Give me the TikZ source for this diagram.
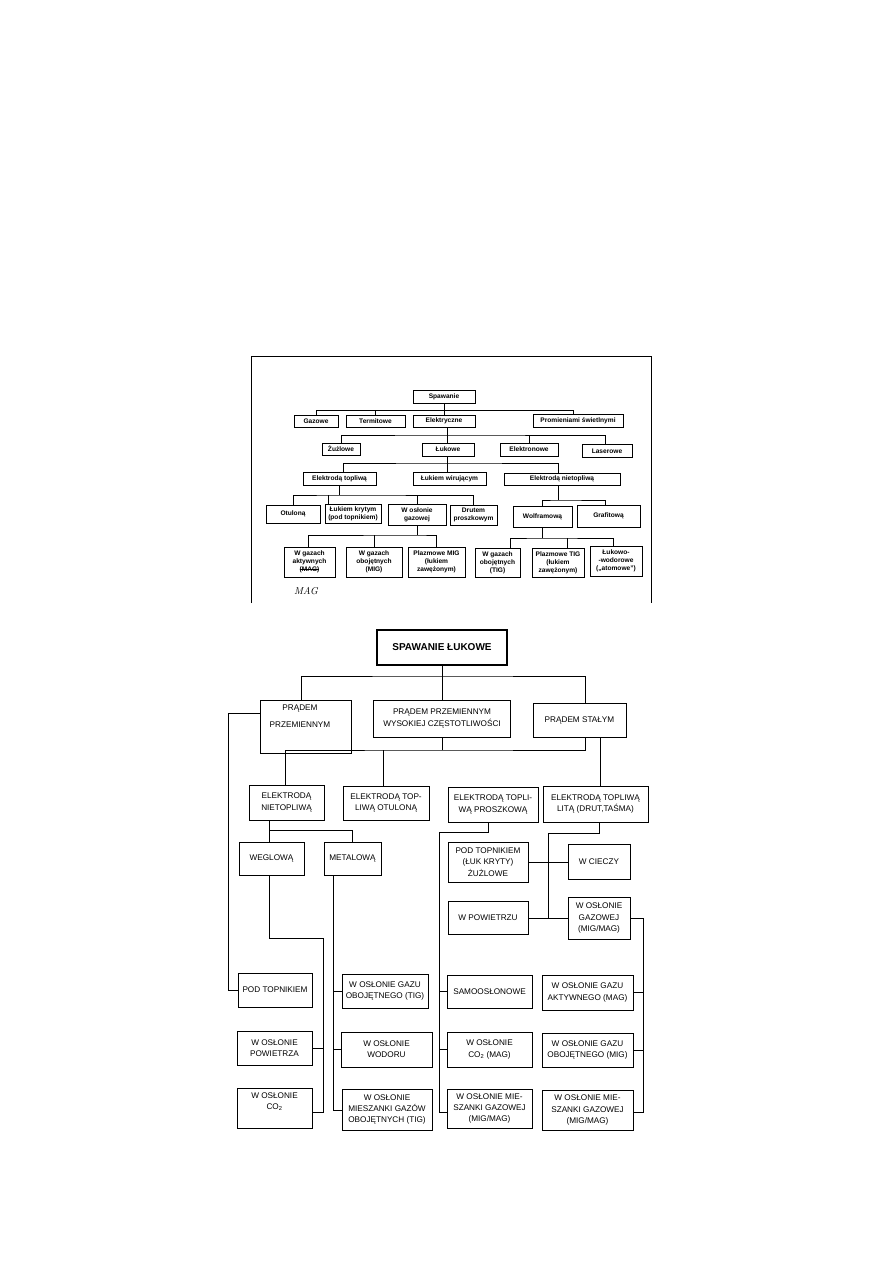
\documentclass[tikz,border=0pt]{standalone}
\usepackage{fontspec}
\usetikzlibrary{calc}
\newfontfamily\arialf{Liberation Sans}
\newcommand\topf{\arialf\bfseries\fontsize{6.6}{7.9}\selectfont}
\newcommand\botf{\arialf\fontsize{8.2}{11.2}\selectfont}
\newcommand\strk[1]{\setbox0\hbox{#1}\rlap{\raisebox{0.45ex}{\rule{\wd0}{0.6pt}}}\box0}
\begin{document}
\begin{tikzpicture}[x=1pt,y=-1pt,
  sz/.style 2 args={minimum width=#1pt,minimum height=#2pt},
  tb/.style={draw,line width=0.8pt,inner sep=0pt,align=center,font=\topf},
  bb/.style={draw,line width=0.9pt,inner sep=0pt,align=center,font=\botf},
  ln/.style={line width=0.8pt},
  bl/.style={line width=0.9pt}]
\fill[white] (0,0) rectangle (893,1263);
\useasboundingbox (0,0) rectangle (893,1263);
% ---------- top scanned diagram ----------
\draw[ln] (251,603) -- (251,356) -- (651,356) -- (651,603);
\node[tb,sz={62}{13}] (t0) at (444,396.5) {Spawanie};
\node[tb,sz={44}{12}] (t1) at (316,421) {Gazowe};
\node[tb,sz={59}{12}] (t2) at (375.5,421) {Termitowe};
\node[tb,sz={62}{12}] (t3) at (444,421) {Elektryczne};
\node[tb,sz={90}{13}] (t4) at (578,421) {Promieniami świetlnymi};
\node[tb,sz={38}{12}] (t5) at (341,449) {Żużlowe};
\node[tb,sz={52}{13}] (t6) at (448,449.5) {Łukowe};
\node[tb,sz={58}{13}] (t7) at (529,449.5) {Elektronowe};
\node[tb,sz={50}{13}] (t8) at (607,451) {Laserowe};
\node[tb,sz={73}{13}] (t9) at (339.5,478.5) {Elektrodą topliwą};
\node[tb,sz={73}{13}] (t10) at (449.5,478.5) {Łukiem wirującym};
\node[tb,sz={116}{12}] (t11) at (562,479) {Elektrodą nietopliwą};
\node[tb,sz={54}{18}] (t12) at (293,514) {Otuloną};
\node[tb,sz={56}{19}] (t13) at (353,513.5) {Łukiem krytym\\(pod topnikiem)};
\node[tb,sz={58}{21}] (t14) at (417,514.5) {W osłonie\\gazowej};
\node[tb,sz={47}{20}] (t15) at (473.5,515) {Drutem\\proszkowym};
\node[tb,sz={59}{21}] (t16) at (542.5,516.5) {Wolframową};
\node[tb,sz={63}{22}] (t17) at (608.5,516) {Grafitową};
\node[tb,sz={51}{30}] (t18) at (309.5,562) {W gazach\\aktywnych\\\strk{(MAG)}};
\node[tb,sz={56}{30}] (t19) at (374,562) {W gazach\\obojętnych\\(MIG)};
\node[tb,sz={57}{30}] (t20) at (436.5,562) {Plazmowe MIG\\(łukiem\\zawężonym)};
\node[tb,sz={45}{29}] (t21) at (497.5,562.5) {W gazach\\obojętnych\\(TIG)};
\node[tb,sz={52}{29}] (t22) at (558,562.5) {Plazmowe TIG\\(łukiem\\zawężonym)};
\node[tb,sz={52}{30}] (t23) at (616,561) {Łukowo-\\-wodorowe\\(„atomowe”)};
\node[font=\itshape\fontsize{10}{12}\selectfont] (hw) at (306,591) {MAG};
% top connectors
\coordinate (j1) at (444,411);
\draw[ln] (t0.south) -- (t3.north);
\draw[ln] (t1.north) |- ($(t4.north)+(-5,-3.5)$) -- ($(t4.north)+(-5,0)$);
\draw[ln] (t2.north) -- (t2.north |- j1);
\coordinate (j2) at (447,435);
\draw[ln] (t3.south -| j2) -- (t6.north -| j2);
\draw[ln] (t5.north) |- (j2) -| ($(t8.north)+(-2,0)$);
\draw[ln] (t7.north) -- (t7.north |- j2);
\coordinate (j3) at (447,463);
\draw[ln] (t6.south -| j3) -- (t10.north -| j3);
\draw[ln] ($(t9.north)+(3.5,0)$) |- (j3) -| ($(t11.north)+(-4,0)$);
\coordinate (j4) at (339.5,495);
\draw[ln] (t9.south) -- (j4);
\draw[ln] (t12.north) |- (j4) -| (t15.north);
\draw[ln] ($(t13.north)+(-25,0)$) -- ++(0,-9);
\draw[ln] (t14.north) -- ++(0,-9);
\coordinate (j5) at (558,500);
\draw[ln] ($(t11.south)+(-4,0)$) -- (j5);
\draw[ln] (t16.north) |- (j5) -| ($(t17.north)+(-3.5,0)$);
\coordinate (j6) at (417,535);
\draw[ln] (t14.south) -- (j6);
\draw[ln] ($(t18.north)+(-1.5,0)$) |- (j6) -| (t20.north);
\draw[ln] (t19.north) -- (t19.north |- j6);
\coordinate (j7) at (542.5,538);
\draw[ln] (t16.south) -- (j7);
\draw[ln] ($(t21.north)+(12.5,0)$) |- (j7) -| ($(t23.north)+(-3,0)$);
\draw[ln] ($(t22.north)+(9,0)$) -- ++(0,-10);
% ---------- bottom diagram ----------
\node[draw,line width=2.2pt,inner sep=0pt,sz={130}{35},font=\arialf\bfseries\fontsize{10}{12}\selectfont] (b0) at (442,647.5) {SPAWANIE ŁUKOWE};
\node[bb,sz={91}{53}] (b1) at (305.5,726.5) {};
\node[font=\botf,align=center] (b1t) at (300,716) {PRĄDEM\\[6pt]PRZEMIENNYM};
\node[bb,sz={137}{37}] (b2) at (442,718.5) {PRĄDEM PRZEMIENNYM\\WYSOKIEJ CZĘSTOTLIWOŚCI};
\node[bb,sz={93}{34}] (b3) at (579.5,720) {PRĄDEM STAŁYM};
\node[bb,sz={75}{35}] (b4) at (286.5,802.5) {ELEKTRODĄ\\NIETOPLIWĄ};
\node[bb,sz={86}{34}] (b5) at (386,803) {ELEKTRODĄ TOP-\\LIWĄ OTULONĄ};
\node[bb,sz={90}{35}] (b6) at (493,804.5) {ELEKTRODĄ TOPLI-\\WĄ PROSZKOWĄ};
\node[bb,sz={105}{36}] (b7) at (595.5,804) {ELEKTRODĄ TOPLIWĄ\\LITĄ (DRUT,TAŚMA)};
\node[bb,sz={65}{33}] (b8) at (271.5,858.5) {WEGLOWĄ};
\node[bb,sz={57}{33}] (b9) at (352.5,858.5) {METALOWĄ};
\node[bb,sz={80}{40}] (b10) at (488,862) {POD TOPNIKIEM\\(ŁUK KRYTY)\\ŻUŻLOWE};
\node[bb,sz={62}{35}] (b11) at (599,862) {W CIECZY};
\node[bb,sz={80}{33}] (b12) at (488,918) {W POWIETRZU};
\node[bb,sz={62}{42}] (b13) at (599,918) {W OSŁONIE\\GAZOWEJ\\(MIG/MAG)};
\node[bb,sz={74}{34}] (b14) at (275,990) {POD TOPNIKIEM};
\node[bb,sz={75}{34}] (b15) at (274.5,1048) {W OSŁONIE\\POWIETRZA};
\node[bb,sz={75}{40}] (b16) at (274.5,1108) {W OSŁONIE\\CO\textsubscript{2}\\[3pt]};
\node[bb,sz={86}{34}] (b17) at (385,991) {W OSŁONIE GAZU\\OBOJĘTNEGO (TIG)};
\node[bb,sz={91}{35}] (b18) at (386.5,1049.5) {W OSŁONIE\\WODORU};
\node[bb,sz={90}{41}] (b19) at (387,1109.5) {W OSŁONIE\\MIESZANKI GAZÓW\\OBOJĘTNYCH (TIG)};
\node[bb,sz={85}{33}] (b20) at (489.5,991.5) {SAMOOSŁONOWE};
\node[bb,sz={85}{35}] (b21) at (489.5,1049.5) {W OSŁONIE\\CO\textsubscript{2} (MAG)};
\node[bb,sz={85}{39}] (b22) at (489.5,1108.5) {W OSŁONIE MIE-\\SZANKI GAZOWEJ\\(MIG/MAG)};
\node[bb,sz={91}{35}] (b23) at (587.5,992.5) {W OSŁONIE GAZU\\AKTYWNEGO (MAG)};
\node[bb,sz={91}{34}] (b24) at (587.5,1050) {W OSŁONIE GAZU\\OBOJĘTNEGO (MIG)};
\node[bb,sz={91}{40}] (b25) at (587.5,1110) {W OSŁONIE MIE-\\SZANKI GAZOWEJ\\(MIG/MAG)};
% bottom connectors
\draw[bl] (b0.south) -- (b2.north);
\coordinate (k1) at (442,676);
\draw[bl] ($(b1.north)+(-4.5,0)$) |- (k1) -| ($(b3.north)+(5.5,0)$);
\draw[bl] ($(b1.north west)+(0,14)$) -- ++(-31,0) |- (b14.west);
\coordinate (k2) at (442,750);
\draw[bl] (b2.south) -- (k2);
\draw[bl] ($(b4.north)+(-1.5,0)$) |- (k2) -| ($(b3.south)+(5.5,0)$);
\draw[bl] ($(b5.north)+(-3,0)$) -- ++(0,-36);
\draw[bl] ($(b3.south)+(20.5,0)$) -- ($(b7.north)+(4.5,0)$);
\coordinate (k3) at (269,830);
\draw[bl] ($(b4.south)+(-17.5,0)$) -- (k3) -| (b9.north);
\draw[bl] (k3) -- (b8.north -| k3);
\coordinate (k4) at (323,938);
\coordinate (k4b) at (323,1112);
\draw[bl] (b8.south -| k3) |- (k4) -- (k4b) -- (b16.east |- k4b);
\draw[bl] (b15.east) -- (b15.east -| k4);
\coordinate (k5) at (333,1110);
\draw[bl] (b9.south -| k5) -- (k5) -- (b19.west |- k5);
\draw[bl] (b17.west) -- (b17.west -| k5);
\draw[bl] (b18.west) -- (b18.west -| k5);
\coordinate (k7) at (439,832);
\coordinate (k8) at (439,1112);
\draw[bl] ($(b6.south)+(-5,0)$) |- (k7) -- (k8) -- (b22.west |- k8);
\draw[bl] (b20.west) -- (b20.west -| k7);
\draw[bl] (b21.west) -- (b21.west -| k7);
\coordinate (k9) at (548,833);
\coordinate (k10) at (548,918);
\draw[bl] ($(b7.south)+(3.5,0)$) |- (k9) -- (k10);
\draw[bl] (b10.east) -- (b11.west);
\draw[bl] (b12.east) -- (b13.west);
\coordinate (k11) at (643,918);
\coordinate (k12) at (643,1112);
\draw[bl] (b13.east) -- (k11) -- (k12) -- (b25.east |- k12);
\draw[bl] (b23.east) -- (b23.east -| k11);
\draw[bl] (b24.east) -- (b24.east -| k11);
\end{tikzpicture}
\end{document}
